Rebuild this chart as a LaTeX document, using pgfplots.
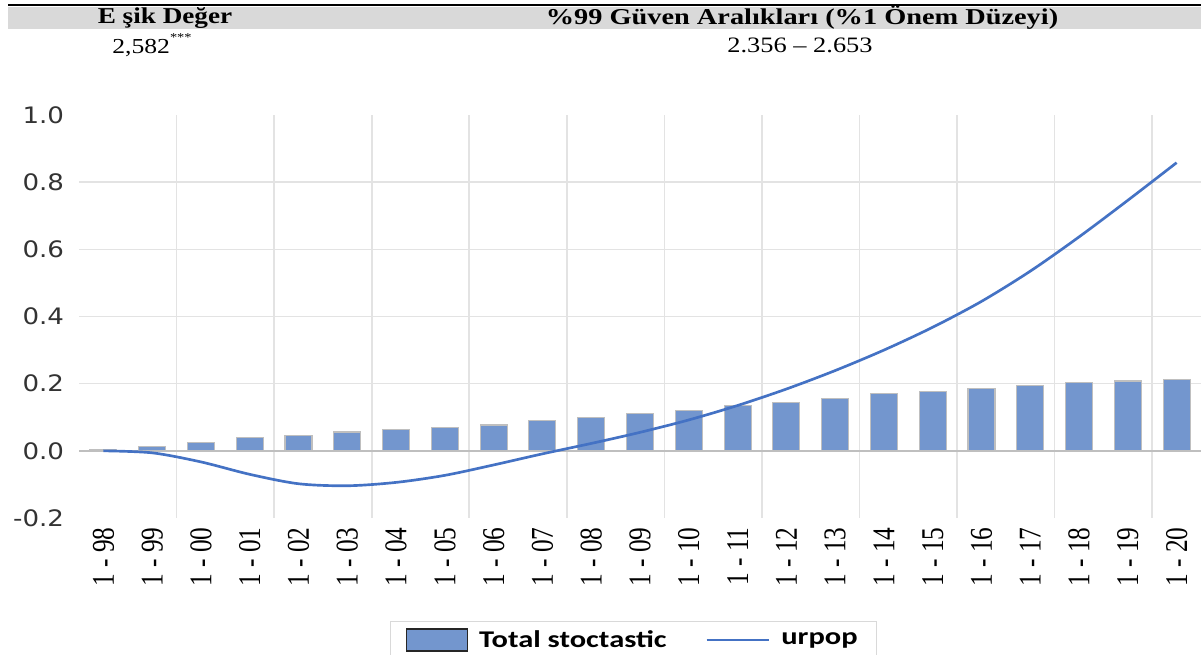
\documentclass[border=0pt]{standalone}
\usepackage{graphicx}
\usepackage{pgfplots}
\pgfplotsset{compat=1.18}
\usepackage{pgfplotstable}
\usepackage{fontspec}
\setmainfont{Liberation Serif}
\newfontfamily\headfont{Liberation Serif}[FakeStretch=1.2]
\newfontfamily\headwide{Liberation Serif}[FakeStretch=1.25]
\newfontfamily\yfont{DejaVu Sans}[FakeStretch=1.15]
\newfontfamily\legfont{Carlito}[FakeStretch=1.27]
\definecolor{barblue}{HTML}{7396CE}
\definecolor{baredge}{HTML}{BFBFBF}
\definecolor{lineblue}{HTML}{4472C4}
\definecolor{gridgray}{HTML}{E3E3E3}
\definecolor{zerogray}{HTML}{BFBFBF}
\definecolor{bandgray}{HTML}{D9D9D9}
% rotated tick labels are stretched across, like the rest of the picture
\newcommand{\xl}[1]{\scalebox{1}[1.25]{#1}}

% i = category index (1-98 ... 1-20)
\pgfplotstableread{
i  total  urpop
0  0.005  0.000
1  0.014 -0.006
2  0.026 -0.033
3  0.039 -0.070
4  0.047 -0.098
5  0.056 -0.104
6  0.064 -0.094
7  0.069 -0.073
8  0.077 -0.042
9  0.090 -0.009
10 0.098  0.022
11 0.110  0.055
12 0.121  0.092
13 0.135  0.135
14 0.144  0.184
15 0.157  0.239
16 0.170  0.300
17 0.177  0.368
18 0.186  0.445
19 0.195  0.535
20 0.203  0.637
21 0.208  0.746
22 0.212  0.858
}\cascdata

\begin{document}
\begin{tikzpicture}
% header table
\fill[bandgray] (6pt,469.5pt) rectangle (900.75pt,486pt);
\draw[line width=1.5pt] (6pt,487.5pt) -- (900.75pt,487.5pt);
\node[font=\headfont\bfseries\fontsize{17}{20}\selectfont] at (123.75pt,478pt) {E şik Değer};
\node[font=\headwide\bfseries\fontsize{17}{20}\selectfont] at (601.5pt,478pt) {\%99 Güven Aralıkları (\%1 Önem Düzeyi)};
\node[font=\headfont\fontsize{16}{19}\selectfont] at (114pt,457.5pt) {2,582\raisebox{0.55em}{\fontsize{9}{9}\selectfont ***}};
\node[font=\headfont\fontsize{16.5}{19}\selectfont] at (600pt,457.5pt) {2.356 – 2.653};

\begin{axis}[
  at={(59.25pt,102.75pt)}, anchor=south west,
  scale only axis, width=841.5pt, height=302.25pt,
  xmin=-0.5, xmax=22.5, ymin=-0.2, ymax=1.0,
  axis line style={draw=none}, tick style={draw=none},
  xtick={0,...,22},
  xticklabels={\xl{1 - 98},\xl{1 - 99},\xl{1 - 00},\xl{1 - 01},\xl{1 - 02},\xl{1 - 03},\xl{1 - 04},\xl{1 - 05},\xl{1 - 06},\xl{1 - 07},\xl{1 - 08},\xl{1 - 09},\xl{1 - 10},\xl{1 - 11},\xl{1 - 12},\xl{1 - 13},\xl{1 - 14},\xl{1 - 15},\xl{1 - 16},\xl{1 - 17},\xl{1 - 18},\xl{1 - 19},\xl{1 - 20}},
  xticklabel style={yshift=-7pt, rotate=90, anchor=east, inner sep=0pt, font=\fontsize{19}{22}\selectfont},
  minor xtick={1.5,3.5,...,21.5},
  xminorgrids, minor x grid style={gridgray, line width=1.2pt},
  ytick={-0.2,0,0.2,0.4,0.6,0.8,1.0},
  yticklabels={-0.2,0.0,0.2,0.4,0.6,0.8,1.0},
  yticklabel style={anchor=east, inner sep=0pt, xshift=-11pt, font=\yfont\fontsize{17}{20}\selectfont, text=black!80},
  minor ytick={0},
  yminorgrids, minor y grid style={zerogray, line width=1.5pt},
  extra y ticks={0.2,0.4,0.6,0.8},
  extra y tick labels={},
  extra y tick style={ymajorgrids, major y grid style={gridgray, line width=1.2pt}},
  legend columns=2,
  legend style={at={(rel axis cs:0.2772,-0.2556)}, anchor=north west,
    draw=gray!30, fill=white, inner xsep=12pt, inner ysep=5pt,
    font=\legfont\bfseries\fontsize{18}{21}\selectfont,
    /tikz/every odd column/.append style={column sep=6pt},
    /tikz/every even column/.append style={column sep=27pt}},
]
\addplot[ybar, bar width=20.25pt, fill=barblue, draw=baredge, line width=0.8pt,
  legend image code/.code={\draw[fill=barblue, draw=black!85, line width=0.9pt] (0pt,-8.25pt) rectangle (45.75pt,8.25pt);}]
  table[x=i, y=total] {\cascdata};
\addlegendentry{Total stoctastic}
\addplot[smooth, lineblue, line width=2pt, no marks,
  legend image code/.code={\draw[lineblue, line width=2pt] (0pt,0pt) -- (47pt,0pt);}]
  table[x=i, y=urpop] {\cascdata};
\addlegendentry{urpop}
\end{axis}
\pgfresetboundingbox
\useasboundingbox (0pt,0pt) rectangle (900.75pt,491.25pt);
\end{tikzpicture}
\end{document}
